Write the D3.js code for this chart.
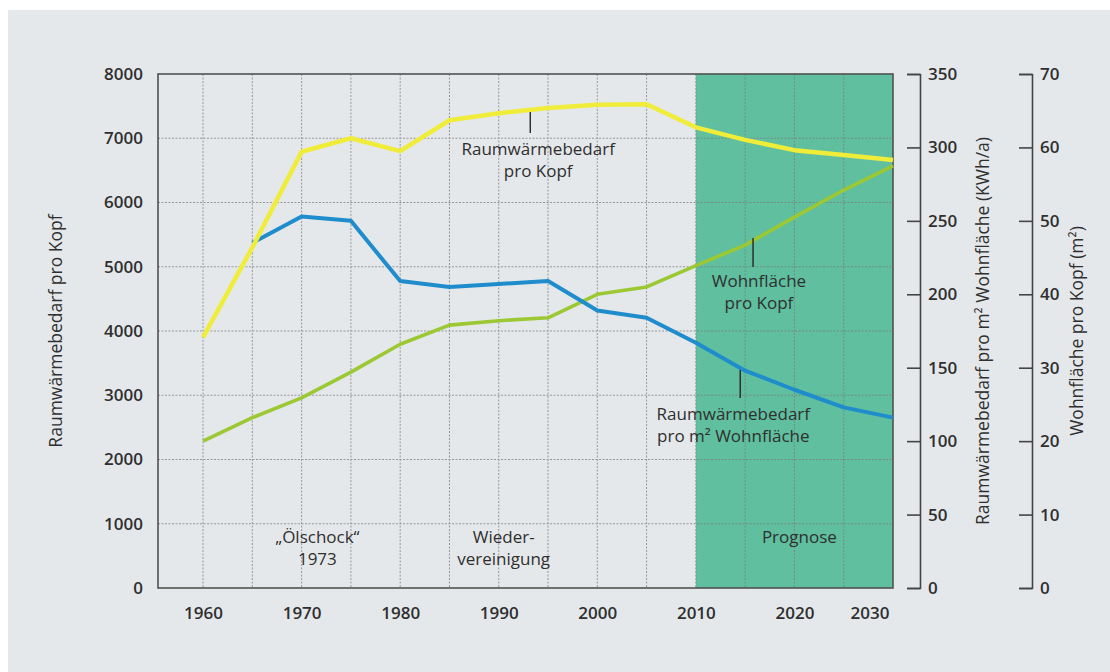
<!DOCTYPE html>
<meta charset="utf-8">
<style>
body { margin: 0; background: #fff; }
svg text { font-family: "Open Sans", sans-serif; fill: #2f2f2f; }
.tick text { font-size: 17px; font-weight: 600; }
.note { font-size: 17px; }
.title { font-size: 17.5px; }
</style>
<body>
<script src="https://cdnjs.cloudflare.com/ajax/libs/d3/7.8.5/d3.min.js"></script>
<script>

// data, 5-year steps
var years = [1960, 1965, 1970, 1975, 1980, 1985, 1990, 1995, 2000, 2005, 2010, 2015, 2020, 2025, 2030];
var heatPerHead = [3900, 5300, 6790, 7000, 6800, 7280, 7390, 7470, 7520, 7530, 7170, 6975, 6815, 6740, 6660];   // kWh/a, left axis
var heatPerArea = [null, 235, 253, 250, 209, 205, 207, 209, 189, 184, 167, 148, 135, 123, 116];                // kWh/m² a, right axis 1
var areaPerHead = [20.0, 23.2, 25.9, 29.4, 33.2, 35.8, 36.4, 36.8, 40.0, 41.0, 43.9, 46.7, 50.5, 54.2, 57.5];   // m², right axis 2

var xTicks = [1960, 1970, 1980, 1990, 2000, 2010, 2020, 2030];
var gridYears = [1960, 1965, 1970, 1975, 1980, 1985, 1990, 1995, 2000, 2005, 2010, 2015, 2020, 2025];
var leftTicks = [0, 1000, 2000, 3000, 4000, 5000, 6000, 7000, 8000];
var areaTicks = [0, 50, 100, 150, 200, 250, 300, 350];
var sizeTicks = [0, 10, 20, 30, 40, 50, 60, 70];
var forecastStart = 2010;

// annotations, placed in year / left-axis units
var notes = [
  {lines: ["Raumwärmebedarf", "pro Kopf"], year: 1994, value: 6739, lead: [1993.2, 7409, 7082]},
  {lines: ["Wohnfläche", "pro Kopf"], year: 2016.4, value: 4685, lead: [2015.8, 5447, 4996]},
  {lines: ["Raumwärmebedarf", "pro m\u00b2 Wohnfläche"], year: 2013.8, value: 2615, lead: [2014.5, 3393, 2957]},
  {lines: ["\u201eÖlschock\u201c", "1973"], year: 1971.6, value: 700},
  {lines: ["Wieder-", "vereinigung"], year: 1990.5, value: 700},
  {lines: ["Prognose"], year: 2020.5, value: 700}
];

var width = 1110, height = 672;
var plot = {left: 158, right: 893, top: 74, bottom: 588};

var svg = d3.select("body").append("svg")
  .attr("width", width)
  .attr("height", height);

svg.append("rect")
  .attr("x", 8).attr("y", 10)
  .attr("width", width - 8).attr("height", height - 10)
  .attr("fill", "#e5e8eb");

var x = d3.scaleLinear().domain([1955.43, 2030]).range([plot.left, plot.right]);
var yL = d3.scaleLinear().domain([0, 8000]).range([plot.bottom, plot.top]);
var yA = d3.scaleLinear().domain([0, 350]).range([plot.bottom, plot.top]);
var yS = d3.scaleLinear().domain([0, 70]).range([plot.bottom, plot.top]);

// forecast area
svg.append("rect")
  .attr("x", x(forecastStart))
  .attr("y", plot.top)
  .attr("width", x(2030) - x(forecastStart))
  .attr("height", plot.bottom - plot.top)
  .attr("fill", "#5fbf9f");

// dotted grid
var grid = svg.append("g")
  .attr("stroke", "#7d7d7d")
  .attr("stroke-width", 1)
  .attr("stroke-dasharray", "2,1.5")
  .attr("opacity", 0.75);

grid.selectAll(".gx")
  .data(gridYears)
  .enter().append("line")
  .attr("x1", function (d) { return x(d); })
  .attr("x2", function (d) { return x(d); })
  .attr("y1", plot.top)
  .attr("y2", plot.bottom);

grid.selectAll(".gy")
  .data(leftTicks.slice(1, -1))
  .enter().append("line")
  .attr("x1", plot.left)
  .attr("x2", plot.right)
  .attr("y1", function (d) { return yL(d); })
  .attr("y2", function (d) { return yL(d); });

// frame
svg.append("rect")
  .attr("x", plot.left).attr("y", plot.top)
  .attr("width", plot.right - plot.left)
  .attr("height", plot.bottom - plot.top)
  .attr("fill", "none")
  .attr("stroke", "#505050")
  .attr("stroke-width", 1.6);

// series
function drawLine(values, scale, color, w) {
  var line = d3.line()
    .defined(function (d) { return d != null; })
    .x(function (d, i) { return x(years[i]); })
    .y(function (d) { return scale(d); });
  svg.append("path")
    .datum(values)
    .attr("fill", "none")
    .attr("stroke", color)
    .attr("stroke-width", w)
    .attr("stroke-linejoin", "round")
    .attr("d", line);
}

drawLine(areaPerHead, yS, "#9cc834", 3.6);
drawLine(heatPerArea, yA, "#1f8dcc", 4);
drawLine(heatPerHead, yL, "#f0ec3a", 4.5);

// axes
var leftAxis = svg.append("g")
  .attr("transform", "translate(" + plot.left + ",0)")
  .call(d3.axisLeft(yL).tickValues(leftTicks).tickFormat(d3.format("d")).tickSize(0).tickPadding(15));
leftAxis.select(".domain").remove();

var bottomAxis = svg.append("g")
  .attr("transform", "translate(0," + plot.bottom + ")")
  .call(d3.axisBottom(x).tickValues(xTicks).tickFormat(d3.format("d")).tickSize(0).tickPadding(19));
bottomAxis.select(".domain").remove();
bottomAxis.selectAll(".tick text")
  .filter(function (d) { return d === 2030; })
  .attr("text-anchor", "end")
  .attr("dx", "-4");

function rightAxis(pos, scale, ticks) {
  var g = svg.append("g")
    .attr("transform", "translate(" + pos + ",0)")
    .call(d3.axisRight(scale).tickValues(ticks).tickSizeInner(-13).tickSizeOuter(-13).tickPadding(8));
  g.select(".domain").attr("stroke", "#444").attr("stroke-width", 1.6);
  g.selectAll(".tick line").attr("stroke", "#444").attr("stroke-width", 1.6);
  return g;
}
rightAxis(920, yA, areaTicks);
rightAxis(1032, yS, sizeTicks);

// axis titles
var midY = (plot.top + plot.bottom) / 2;
function title(px, txt) {
  svg.append("text")
    .attr("class", "title")
    .attr("transform", "translate(" + px + "," + midY + ") rotate(-90)")
    .attr("text-anchor", "middle")
    .attr("dy", "0.35em")
    .text(txt);
}
title(56, "Raumwärmebedarf pro Kopf");
title(983, "Raumwärmebedarf pro m\u00b2 Wohnfläche (KWh/a)");
title(1077, "Wohnfläche pro Kopf (m\u00b2)");

// annotations
notes.forEach(function (n) {
  if (n.lead) {
    svg.append("line")
      .attr("x1", x(n.lead[0])).attr("x2", x(n.lead[0]))
      .attr("y1", yL(n.lead[1])).attr("y2", yL(n.lead[2]))
      .attr("stroke", "#2f2f2f")
      .attr("stroke-width", 1.5);
  }
  var t = svg.append("text")
    .attr("class", "note")
    .attr("text-anchor", "middle")
    .attr("x", x(n.year))
    .attr("y", yL(n.value));
  n.lines.forEach(function (s, i) {
    t.append("tspan")
      .attr("x", x(n.year))
      .attr("dy", i === 0 ? 0 : 22)
      .text(s);
  });
});

</script>
</body>
